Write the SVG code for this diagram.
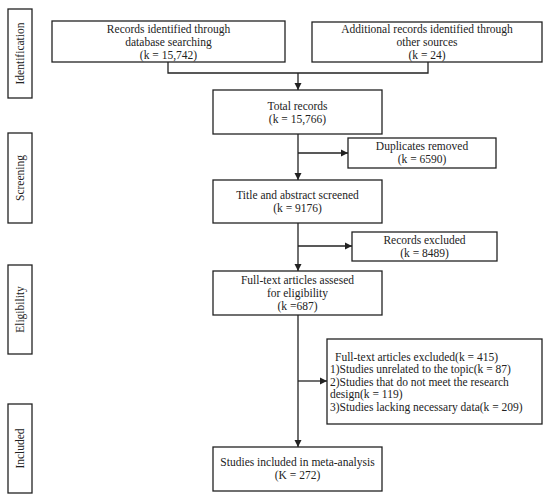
<svg xmlns="http://www.w3.org/2000/svg" width="550" height="499" viewBox="0 0 550 499">
<style>
.box{fill:#fff;stroke:#222;stroke-width:1.3}
.t{font-family:"Liberation Serif","Times New Roman",serif;font-size:11.5px;fill:#222;text-anchor:middle}
.tl{font-family:"Liberation Serif","Times New Roman",serif;font-size:11.5px;fill:#222}
.side{font-family:"Liberation Serif","Times New Roman",serif;font-size:11.5px;fill:#222;text-anchor:middle}
.c{fill:none;stroke:#222;stroke-width:1.3}
</style>
<defs>
<marker id="ah" markerWidth="8" markerHeight="8" refX="7" refY="4" orient="auto" markerUnits="userSpaceOnUse">
<path d="M0,0.5 L7,4 L0,7.5 Z" fill="#222"/>
</marker>
</defs>
<rect width="550" height="499" fill="#fff"/>
<g id="stages">
<g id="stage-identification"><rect class="box" x="8" y="9" width="24" height="89"/><text class="side" transform="translate(24,53.5) rotate(-90)">Identification</text></g>
<g id="stage-screening"><rect class="box" x="8" y="133" width="24" height="90"/><text class="side" transform="translate(24,178) rotate(-90)">Screening</text></g>
<g id="stage-eligibility"><rect class="box" x="8" y="265" width="24" height="89"/><text class="side" transform="translate(24,309.5) rotate(-90)">Eligibility</text></g>
<g id="stage-included"><rect class="box" x="8" y="404" width="24" height="89"/><text class="side" transform="translate(24,448.5) rotate(-90)">Included</text></g>
</g>
<g id="connectors">
<path class="c" d="M168,62 V73 H428 V62"/>
<path class="c" d="M298,73 V90" marker-end="url(#ah)"/>
<path class="c" d="M298,134 V180" marker-end="url(#ah)"/>
<path class="c" d="M298,153 H348" marker-end="url(#ah)"/>
<path class="c" d="M298,223 V271" marker-end="url(#ah)"/>
<path class="c" d="M298,246 H352" marker-end="url(#ah)"/>
<path class="c" d="M298,315 V447" marker-end="url(#ah)"/>
<path class="c" d="M298,381 H327" marker-end="url(#ah)"/>
</g>
<g id="node-database">
<rect class="box" x="52" y="21" width="233" height="41"/>
<text class="t" x="168.5" y="33">Records identified through</text>
<text class="t" x="168.5" y="46">database searching</text>
<text class="t" x="168.5" y="59">(k = 15,742)</text>
</g>
<g id="node-other">
<rect class="box" x="312" y="22" width="230" height="40"/>
<text class="t" x="427" y="33">Additional records identified through</text>
<text class="t" x="427" y="46">other sources</text>
<text class="t" x="427" y="59">(k = 24)</text>
</g>
<g id="node-total">
<rect class="box" x="213" y="90" width="169" height="44"/>
<text class="t" x="297.5" y="110">Total records</text>
<text class="t" x="297.5" y="123">(k = 15,766)</text>
</g>
<g id="node-duplicates">
<rect class="box" x="348" y="138" width="148" height="30"/>
<text class="t" x="422" y="150">Duplicates removed</text>
<text class="t" x="422" y="163">(k = 6590)</text>
</g>
<g id="node-title">
<rect class="box" x="213" y="180" width="169" height="43"/>
<text class="t" x="297.5" y="199">Title and abstract screened</text>
<text class="t" x="297.5" y="212">(k = 9176)</text>
</g>
<g id="node-records-excluded">
<rect class="box" x="352" y="232" width="145" height="29"/>
<text class="t" x="424.5" y="244">Records excluded</text>
<text class="t" x="424.5" y="257">(k = 8489)</text>
</g>
<g id="node-fulltext">
<rect class="box" x="213" y="271" width="169" height="44"/>
<text class="t" x="297.5" y="284">Full-text articles assesed</text>
<text class="t" x="297.5" y="297">for eligibility</text>
<text class="t" x="297.5" y="310">(k =687)</text>
</g>
<g id="node-fulltext-excluded">
<rect class="box" x="327" y="339" width="215" height="85"/>
<text class="tl" x="335" y="361">Full-text articles excluded(k = 415)</text>
<text class="tl" x="330" y="373">1)Studies unrelated to the topic(k = 87)</text>
<text class="tl" x="330" y="386">2)Studies that do not meet the research</text>
<text class="tl" x="330" y="398">design(k = 119)</text>
<text class="tl" x="330" y="411">3)Studies lacking necessary data(k = 209)</text>
</g>
<g id="node-included">
<rect class="box" x="213" y="447" width="169" height="44"/>
<text class="t" x="297.5" y="466">Studies included in meta-analysis</text>
<text class="t" x="297.5" y="479">(K = 272)</text>
</g>
</svg>
